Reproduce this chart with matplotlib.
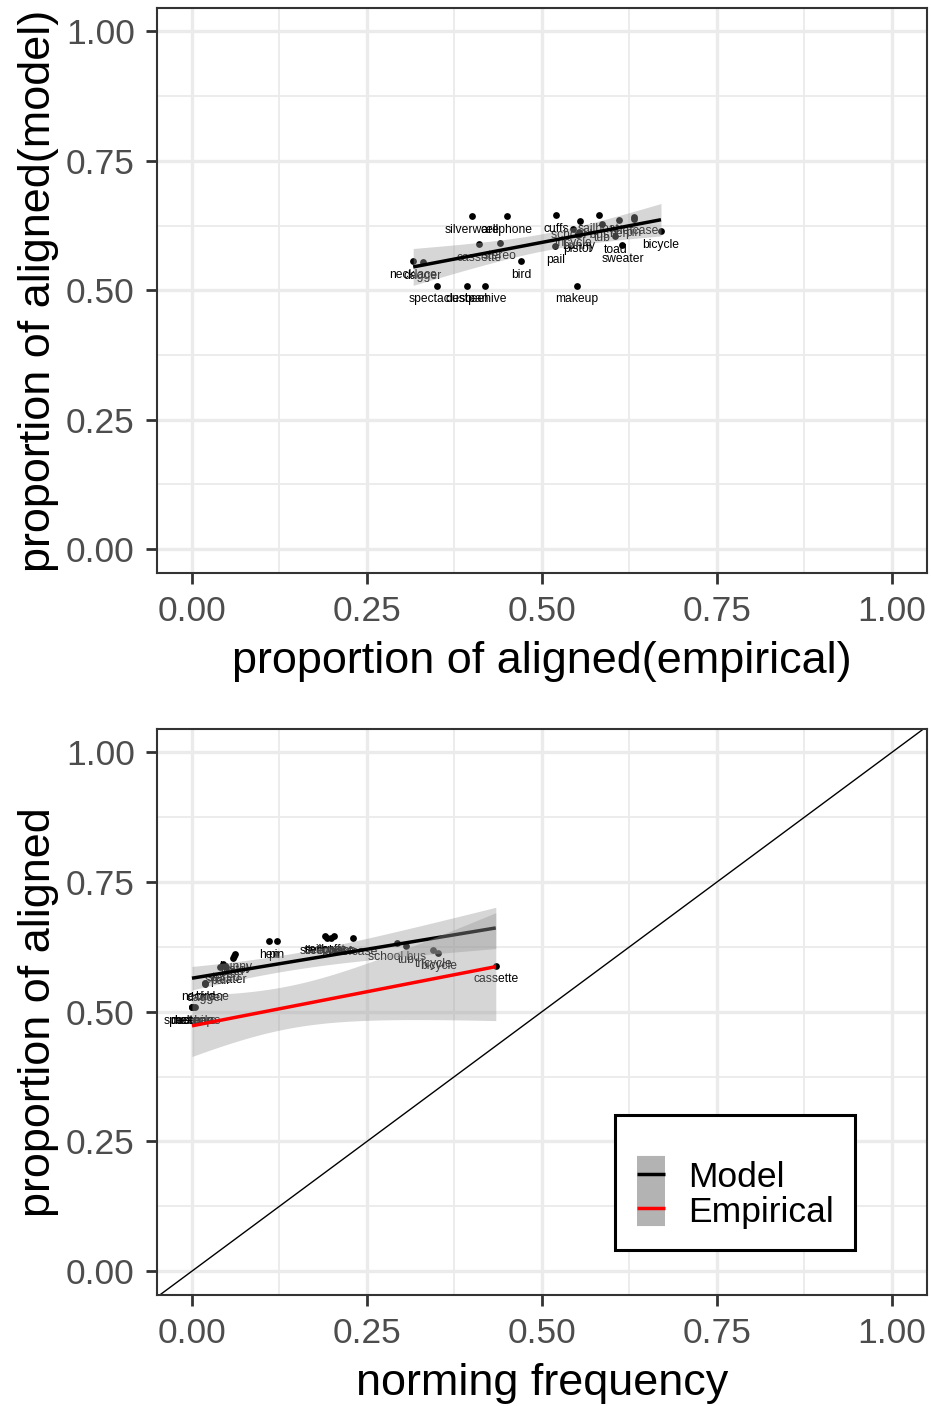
import math
import numpy as np
import matplotlib
matplotlib.use("Agg")
import matplotlib.pyplot as plt
from matplotlib.lines import Line2D
from matplotlib.legend_handler import HandlerTuple

plt.rcParams['font.family'] = ['Liberation Sans', 'DejaVu Sans']

# Item-level data
items = ["spectacles", "dustpan", "beehive", "makeup",
         "necklace", "dagger", "bird",
         "pail", "stereo", "sweater", "toad", "pistol", "bunny",
         "hen", "pin",
         "sailboat", "silverware", "cellphone", "cuffs", "briefcase",
         "school bus", "tub", "tricycle", "bicycle", "cassette"]
empirical = [0.350, 0.393, 0.419, 0.550,
             0.316, 0.330, 0.470,
             0.519, 0.440, 0.615, 0.605, 0.551, 0.553,
             0.610, 0.631,
             0.581, 0.400, 0.450, 0.520, 0.631,
             0.555, 0.586, 0.545, 0.670, 0.410]
model = [0.509, 0.509, 0.509, 0.509,
         0.556, 0.554, 0.556,
         0.586, 0.592, 0.587, 0.604, 0.607, 0.612,
         0.636, 0.637,
         0.645, 0.643, 0.643, 0.645, 0.642,
         0.633, 0.627, 0.618, 0.614, 0.589]
norming_freq = [0.000, 0.000, 0.005, 0.000,
                0.019, 0.019, 0.019,
                0.040, 0.045, 0.048, 0.058, 0.060, 0.062,
                0.110, 0.121,
                0.190, 0.193, 0.198, 0.203, 0.230,
                0.293, 0.306, 0.345, 0.352, 0.434]

series_names = ["Model", "Empirical"]
series_colors = ["black", "red"]

ticks = [0.0, 0.25, 0.5, 0.75, 1.0]
tick_labels = ["0.00", "0.25", "0.50", "0.75", "1.00"]
minor_ticks = [0.125, 0.375, 0.625, 0.875]


def t_quantile(p, df):
    """Quantile of Student's t distribution by numerical integration."""
    c = math.gamma((df + 1) / 2) / (math.sqrt(df * math.pi) * math.gamma(df / 2))
    grid = np.linspace(0, 6, 60001)
    pdf = c * (1 + grid ** 2 / df) ** (-(df + 1) / 2)
    cdf = 0.5 + np.concatenate([[0], np.cumsum((pdf[1:] + pdf[:-1]) / 2 * np.diff(grid))])
    return float(np.interp(p, cdf, grid))


def lm_band(x, y, n_out=80):
    x = np.asarray(x, float)
    y = np.asarray(y, float)
    n = len(x)
    slope, intercept = np.polyfit(x, y, 1)
    resid = y - (intercept + slope * x)
    sigma = math.sqrt(np.sum(resid ** 2) / (n - 2))
    xs = np.linspace(x.min(), x.max(), n_out)
    fit = intercept + slope * xs
    sxx = np.sum((x - x.mean()) ** 2)
    se = sigma * np.sqrt(1 / n + (xs - x.mean()) ** 2 / sxx)
    t = t_quantile(0.975, n - 2)
    return xs, fit, fit - t * se, fit + t * se


GRID_MAJOR = "#ebebeb"
TEXT_GRAY = "#4d4d4d"
BORDER = "#333333"
BAND = "#999999"


def style_axes(ax):
    ax.set_xlim(-0.05, 1.05)
    ax.set_ylim(-0.046, 1.045)
    ax.set_xticks(ticks)
    ax.set_xticklabels(tick_labels)
    ax.set_yticks(ticks)
    ax.set_yticklabels(tick_labels)
    ax.set_xticks(minor_ticks, minor=True)
    ax.set_yticks(minor_ticks, minor=True)
    ax.grid(which="major", color=GRID_MAJOR, lw=2.4, zorder=0)
    ax.grid(which="minor", color=GRID_MAJOR, lw=1.3, zorder=0)
    ax.set_axisbelow(True)
    ax.tick_params(which="major", length=8, width=2, color=BORDER,
                   labelsize=25.5, labelcolor=TEXT_GRAY, pad=8)
    ax.tick_params(which="minor", length=0)
    for s in ax.spines.values():
        s.set_color(BORDER)
        s.set_linewidth(1.5)


def draw_points(ax, xs, ys):
    ax.scatter(xs, ys, s=24, color="black", zorder=2, linewidths=0)
    for name, xv, yv in zip(items, xs, ys):
        ax.annotate(name, (xv, yv), xytext=(0, -10), textcoords="offset points",
                    ha="center", va="center", fontsize=8.7, color="black", zorder=3)


def draw_smooth(ax, x, y, color, z):
    xs, fit, lo, hi = lm_band(x, y)
    ax.fill_between(xs, lo, hi, color=BAND, alpha=0.4, lw=0, zorder=z)
    ax.plot(xs, fit, color=color, lw=2.5, zorder=z + 0.5, solid_capstyle="butt")


fig = plt.figure(figsize=(9.31, 14.06), dpi=100)
ax1 = fig.add_axes([0.1686, 0.59246, 0.8271, 0.40185])
ax2 = fig.add_axes([0.1686, 0.07895, 0.8271, 0.4026])

# Model vs empirical
style_axes(ax1)
draw_points(ax1, empirical, model)
draw_smooth(ax1, empirical, model, "black", 4)
ax1.set_xlabel("proportion of aligned(empirical)", fontsize=32.4, labelpad=9)
ax1.set_ylabel("proportion of aligned(model)", fontsize=32.4, labelpad=5)

# Alignment vs norming frequency
style_axes(ax2)
ax2.axline((0, 0), slope=1, color="black", lw=1.0, zorder=1.5)
draw_points(ax2, norming_freq, model)
draw_smooth(ax2, norming_freq, model, series_colors[0], 4)
draw_smooth(ax2, norming_freq, empirical, series_colors[1], 6)
ax2.set_xlabel("norming frequency", fontsize=32.4, labelpad=9)
ax2.set_ylabel("proportion of aligned", fontsize=32.4, labelpad=5)

# Legend keys: grey ribbon swatch with the fitted line on top
handles = [(Line2D([], [], color="#b3b3b3", lw=26, solid_capstyle="butt"),
            Line2D([], [], color=c, lw=2.5, solid_capstyle="butt"))
           for c in series_colors]
leg = ax2.legend(handles, series_names, loc="center", bbox_to_anchor=(0.751, 0.199),
                 handler_map={tuple: HandlerTuple(ndivide=1)},
                 fontsize=25.5, handlelength=0.8, handleheight=0.95, labelspacing=0,
                 handletextpad=0.65, borderpad=0.6, title=" ", title_fontsize=18,
                 fancybox=False, framealpha=1, edgecolor="black")
leg.get_frame().set_linewidth(2.2)

fig.savefig("out.png", dpi=100)
